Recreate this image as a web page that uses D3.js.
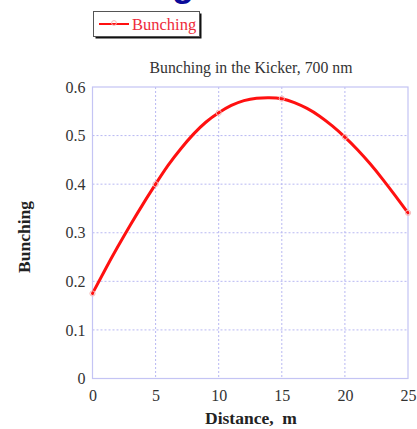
<!DOCTYPE html>
<html>
<head>
<meta charset="utf-8">
<script src="https://cdn.jsdelivr.net/npm/d3@7"></script>
<style>
  html, body { margin: 0; padding: 0; background: #fff; }
  svg { display: block; }
</style>
</head>
<body>
<svg id="chart" width="417" height="429"></svg>
<script>
// Bunching along the kicker section
const distance = [0, 1, 2, 3, 4, 5, 6, 7, 8, 9, 10, 11, 12, 13, 14, 15, 16, 17, 18, 19, 20, 21, 22, 23, 24, 25];
const bunching = [0.175, 0.224, 0.271, 0.316, 0.359, 0.400, 0.439, 0.473, 0.503, 0.528, 0.547, 0.562, 0.572, 0.577, 0.578, 0.576, 0.568, 0.556, 0.540, 0.520, 0.497, 0.471, 0.442, 0.410, 0.376, 0.341];
const markerAt = [0, 5, 10, 15, 20, 25];
const xTicks = [0, 5, 10, 15, 20, 25];
const yTicks = [0, 0.1, 0.2, 0.3, 0.4, 0.5, 0.6];

const seriesName = "Bunching";
const chartTitle = "Bunching in the Kicker, 700 nm";
const xLabel = "Distance,\u00a0\u00a0m";
const yLabel = "Bunching";

const svg = d3.select("#chart");
const serif = "'Liberation Serif', 'Times New Roman', serif";

const plot = { left: 92.5, right: 408, top: 87, bottom: 378.5 };
const x = d3.scaleLinear().domain([0, 25]).range([plot.left, plot.right]);
const y = d3.scaleLinear().domain([0, 0.6]).range([plot.bottom, plot.top]);

// Descender of the slide heading above
svg.append("text")
  .attr("x", 172).attr("y", -4)
  .attr("font-family", "'Liberation Sans', Arial, sans-serif")
  .attr("font-weight", "bold").attr("font-size", 36)
  .attr("fill", "#0a0a9a")
  .text("g");

// Grid lines
const grid = svg.append("g");
grid.selectAll("line.vx").data(xTicks.slice(1, -1)).join("line")
  .attr("x1", d => x(d)).attr("x2", d => x(d))
  .attr("y1", plot.top).attr("y2", plot.bottom)
  .attr("stroke", "#b8b8f2").attr("stroke-width", 1).attr("stroke-dasharray", "2,2");
grid.selectAll("line.hy").data(yTicks.slice(1, -1)).join("line")
  .attr("x1", plot.left).attr("x2", plot.right)
  .attr("y1", d => y(d)).attr("y2", d => y(d))
  .attr("stroke", "#b8b8f2").attr("stroke-width", 1).attr("stroke-dasharray", "2,2");

// Plot frame
svg.append("rect")
  .attr("x", plot.left).attr("y", plot.top)
  .attr("width", plot.right - plot.left).attr("height", plot.bottom - plot.top)
  .attr("fill", "none").attr("stroke", "#c4c4f4").attr("stroke-width", 1.2);

// Axes (labels only)
const xAxis = d3.axisBottom(x).tickValues(xTicks).tickSize(0).tickPadding(11).tickFormat(d3.format("d"));
const gx = svg.append("g").attr("transform", `translate(0,${plot.bottom})`).call(xAxis);
gx.select(".domain").remove();
gx.selectAll("text").attr("font-family", serif).attr("font-size", 16).attr("fill", "#333");

const yAxis = d3.axisLeft(y).tickValues(yTicks).tickSize(0).tickPadding(7).tickFormat(d => d === 0 ? "0" : d3.format(".1f")(d));
const gy = svg.append("g").attr("transform", `translate(${plot.left},0)`).call(yAxis);
gy.select(".domain").remove();
gy.selectAll("text").attr("font-family", serif).attr("font-size", 16).attr("fill", "#333");

// Curve
const line = d3.line().x((d, i) => x(distance[i])).y(d => y(d)).curve(d3.curveNatural);
svg.append("path").datum(bunching)
  .attr("d", line)
  .attr("fill", "none").attr("stroke", "#ff1010").attr("stroke-width", 3)
  .attr("stroke-linecap", "round");

// Faint point markers
svg.selectAll("circle.pt").data(markerAt).join("circle")
  .attr("cx", d => x(d)).attr("cy", d => y(bunching[distance.indexOf(d)]))
  .attr("r", 2.6).attr("fill", "none").attr("stroke", "#f6b4b4").attr("stroke-width", 1);

// Title
svg.append("text")
  .attr("x", 251).attr("y", 73).attr("text-anchor", "middle")
  .attr("font-family", serif).attr("font-size", 15.8).attr("fill", "#333")
  .text(chartTitle);

// Axis titles
svg.append("text")
  .attr("x", 251).attr("y", 424).attr("text-anchor", "middle")
  .attr("font-family", serif).attr("font-weight", "bold").attr("font-size", 17.5).attr("fill", "#222")
  .text(xLabel);
svg.append("text")
  .attr("transform", "translate(30,237) rotate(-90)").attr("text-anchor", "middle")
  .attr("font-family", serif).attr("font-weight", "bold").attr("font-size", 17.5).attr("fill", "#222")
  .text(yLabel);

// Legend with drop shadow
const lg = svg.append("g");
lg.append("rect").attr("x", 95.5).attr("y", 13.5).attr("width", 106).attr("height", 25).attr("fill", "#111");
lg.append("rect").attr("x", 93.5).attr("y", 11.5).attr("width", 106).attr("height", 25)
  .attr("fill", "#fff").attr("stroke", "#555").attr("stroke-width", 1);
lg.append("line").attr("x1", 99).attr("x2", 129).attr("y1", 24).attr("y2", 24)
  .attr("stroke", "#ff1010").attr("stroke-width", 2);
lg.append("circle").attr("cx", 114).attr("cy", 23).attr("r", 2.4)
  .attr("fill", "none").attr("stroke", "#f6b4b4").attr("stroke-width", 1);
lg.append("text").attr("x", 132).attr("y", 29.5)
  .attr("font-family", serif).attr("font-size", 16.5).attr("fill", "#ee2a3a")
  .text(seriesName);
</script>
</body>
</html>
